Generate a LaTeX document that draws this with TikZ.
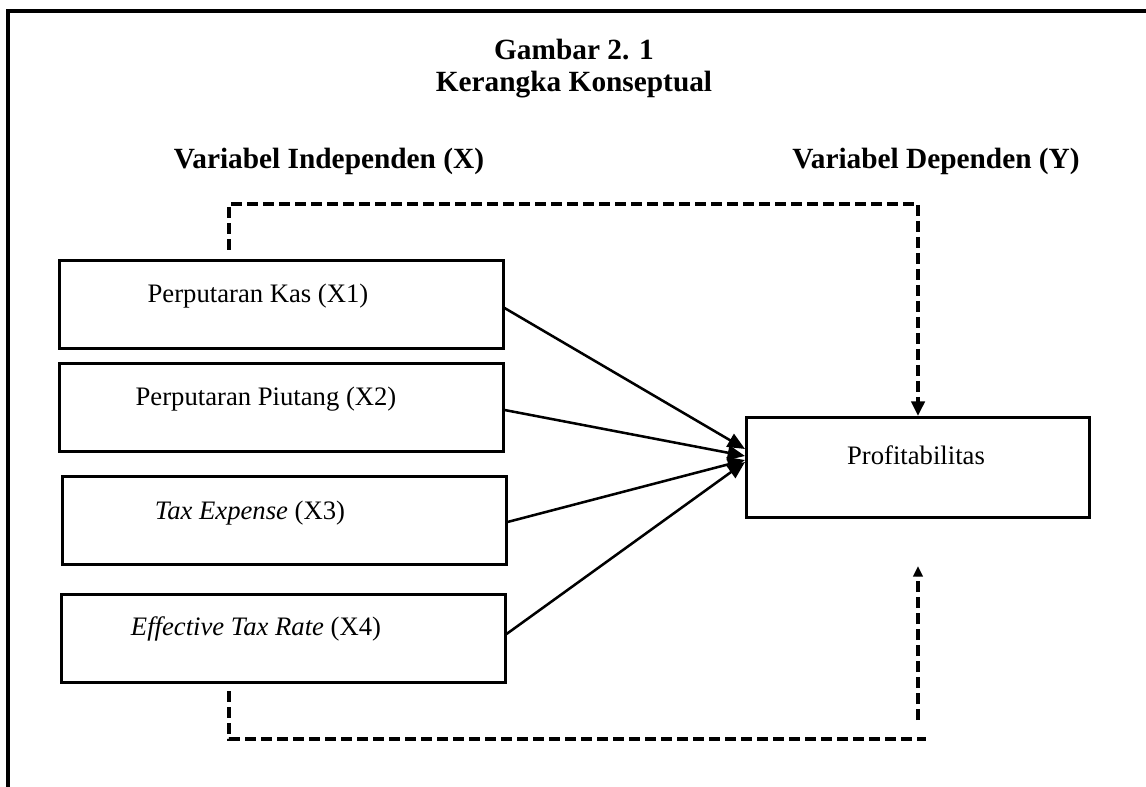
\documentclass[tikz,border=0pt]{standalone}
\usepackage{fontspec}
\setmainfont{Liberation Serif}
\usetikzlibrary{arrows.meta}
\begin{document}
\begin{tikzpicture}[x=0.75pt,y=-0.75pt,
  box/.style={draw, line width=1.9pt, inner sep=0pt, minimum width=333pt, minimum height=66pt, anchor=north west},
  txt/.style={font=\fontsize{20}{24}\selectfont, inner sep=0pt},
  head/.style={font=\fontsize{22}{26}\selectfont\bfseries, inner sep=0pt},
  dline/.style={line width=2.6pt, dash pattern=on 8pt off 4pt},
  arr/.style={line width=1.9pt, -{Triangle[length=13pt,width=11pt]}},
  darr/.style={dline, -{Triangle[length=11pt,width=10pt]}}]
\useasboundingbox (0,0) rectangle (1146,787);
% frame (top and left edges)
\draw[line width=2.6pt] (8,787) -- (8,11) -- (1146,11);
% headings
\node[head] (g1) at (574,50) {Gambar 2. 1};
\node[head] (g2) at (574,85) {Kerangka Konseptual};
\node[head] (vx) at (329,161) {Variabel Independen (X)};
\node[head] (vy) at (936,161) {Variabel Dependen (Y)};
% boxes
\node[box] (b1) at (58,259) {};
\node[box] (b2) at (58,362) {};
\node[box] (b3) at (61,475) {};
\node[box] (b4) at (60,593) {};
\node[box, minimum width=257.25pt, minimum height=75pt] (p) at (745,416) {};
% texts
\node[txt] (t1) at (258,296) {Perputaran Kas (X1)};
\node[txt] (t2) at (266,399) {Perputaran Piutang (X2)};
\node[txt] (t3) at (250,513) {\textit{Tax Expense} (X3)};
\node[txt] (t4) at (256,629) {\textit{Effective Tax Rate} (X4)};
\node[txt] (tp) at (916,455) {Profitabilitas};
% solid arrows
\draw[arr] (b1.east |- 0,308) -- (p.west |- 0,449);
\draw[arr] (b2.east |- 0,410) -- (p.west |- 0,456);
\draw[arr] (b3.east |- 0,522) -- (p.west |- 0,460);
\draw[arr] (b4.east |- 0,634) -- (p.west |- 0,462);
% dashed top connector
\coordinate (a0) at (229,250);
\coordinate (a1) at (229,204);
\coordinate (a2) at (918,204);
\draw[darr] (a0) -- (a1) -- (a2) -- (p.north -| a2);
% dashed bottom connector
\coordinate (c0) at (229,691);
\coordinate (c1) at (229,739);
\coordinate (c2) at (926,739);
\draw[dline] (c0) -- (c1) -- (c2);
\coordinate (d0) at (918,720);
\coordinate (d1) at (918,566);
\draw[dline, -{Triangle[length=8pt,width=7pt]}] (d0) -- (d1);
\end{tikzpicture}
\end{document}
